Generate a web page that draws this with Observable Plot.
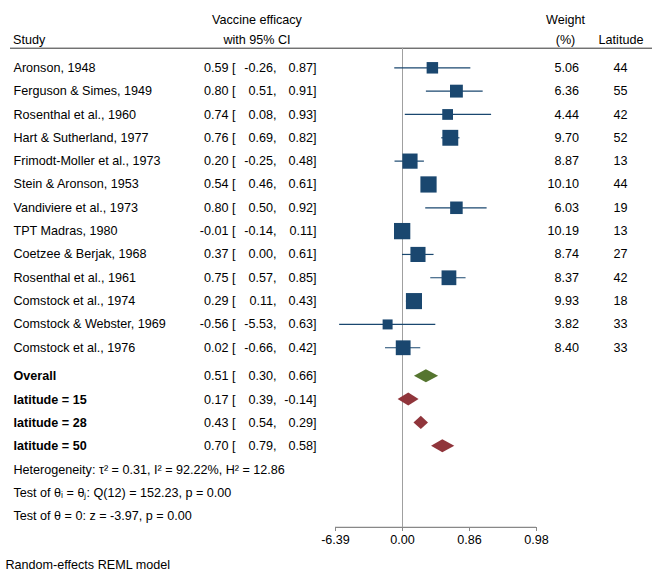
<!DOCTYPE html>
<html><head><meta charset="utf-8">
<script src="https://cdn.jsdelivr.net/npm/d3@7"></script>
<script src="https://cdn.jsdelivr.net/npm/@observablehq/plot@0.6"></script>
<style>body{margin:0;background:#fff} svg{display:block}</style>
</head><body><div id="chart"></div>
<script>
// ---- data ----
const studies = ["Aronson, 1948", "Ferguson & Simes, 1949", "Rosenthal et al., 1960", "Hart & Sutherland, 1977",
  "Frimodt-Moller et al., 1973", "Stein & Aronson, 1953", "Vandiviere et al., 1973", "TPT Madras, 1980",
  "Coetzee & Berjak, 1968", "Rosenthal et al., 1961", "Comstock et al., 1974", "Comstock & Webster, 1969",
  "Comstock et al., 1976"];
const efficacy = [0.59, 0.80, 0.74, 0.76, 0.20, 0.54, 0.80, -0.01, 0.37, 0.75, 0.29, -0.56, 0.02];
const ciLow    = [-0.26, 0.51, 0.08, 0.69, -0.25, 0.46, 0.50, -0.14, 0.00, 0.57, 0.11, -5.53, -0.66];
const ciHigh   = [0.87, 0.91, 0.93, 0.82, 0.48, 0.61, 0.92, 0.11, 0.61, 0.85, 0.43, 0.63, 0.42];
const weights  = [5.06, 6.36, 4.44, 9.70, 8.87, 10.10, 6.03, 10.19, 8.74, 8.37, 9.93, 3.82, 8.40];
const latitude = [44, 55, 42, 52, 13, 44, 19, 13, 27, 42, 18, 33, 33];

const pooledLabels = ["Overall", "latitude = 15", "latitude = 28", "latitude = 50"];
const pooledEst  = [0.51, 0.17, 0.43, 0.70];
const pooledLow  = [0.30, 0.39, 0.54, 0.79];
const pooledHigh = [0.66, -0.14, 0.29, 0.58];

const statLines = [
  "Heterogeneity: \u03c4\u00b2 = 0.31, I\u00b2 = 92.22%, H\u00b2 = 12.86",
  "Test of \u03b8\u1d62 = \u03b8\u2c7c: Q(12) = 152.23, p = 0.00",
  "Test of \u03b8 = 0: z = -3.97, p = 0.00"
];
const tickLabels = ["-6.39", "0.00", "0.86", "0.98"];
const tickEfficacy = [1 - Math.exp(2), 0, 1 - Math.exp(-2), 1 - Math.exp(-4)];
const footer = "Random-effects REML model";

// ---- layout ----
const vt = v => -Math.log(1 - v);          // efficacy -> log scale used by axis
const n = studies.length;
const gap = 0.22;
const headerLineRow = -0.84, axisRow = 19.70;
const green = "#55752f", maroon = "#90353b", navy = "#1a476f";
const font = "'Liberation Sans', Arial, Helvetica, sans-serif";
const fs = 12.6;

const rows = studies.map((s, i) => ({
  label: s, row: i, est: efficacy[i], lo: ciLow[i], hi: ciHigh[i], w: weights[i], lat: latitude[i], bold: false
}));
const pooled = pooledLabels.map((s, j) => ({
  label: s, row: n + gap + j, est: pooledEst[j], lo: pooledLow[j], hi: pooledHigh[j], bold: true, overall: j === 0
}));
const stats = statLines.map((s, k) => ({label: s, row: n + gap + pooledLabels.length + k}));

const h = 0.28;
const diamondPts = pooled.flatMap(p => [
  {id: p.label, overall: p.overall, y: p.row - h, x1: vt(p.est), x2: vt(p.est)},
  {id: p.label, overall: p.overall, y: p.row, x1: vt(p.lo), x2: vt(p.hi)},
  {id: p.label, overall: p.overall, y: p.row + h, x1: vt(p.est), x2: vt(p.est)}
]);

const cols = {study: 13, est: 235, lo: 276, hi: 316, weight: 578.5, lat: 620};
const all = [...rows, ...pooled];
const txt = (data, opts) => Plot.text(data, {frameAnchor: "left", fontSize: fs, fill: "black", ...opts});
const maxW = d3.max(weights);
const tickT = tickEfficacy.map(vt);

const chart = Plot.plot({
  width: 662, height: 577,
  marginLeft: 0, marginRight: 0, marginTop: 0, marginBottom: 50,
  style: {fontFamily: font, fontSize: fs + "px", background: "white", color: "black"},
  x: {domain: [tickT[0], tickT[3]], range: [335, 536], label: null},
  y: {domain: [0, 20], range: [67.3, 67.3 + 20 * 23.33], axis: null},
  r: {type: "sqrt", domain: [0, maxW], range: [0, 2.88 * Math.sqrt(maxW)]},
  marks: [
    // header
    txt([{t: "Vaccine efficacy", y: -2.03}, {t: "with 95% CI", y: -1.2}], {text: "t", y: "y", dx: 256.5, textAnchor: "middle"}),
    txt([{t: "Study", y: -1.2}], {text: "t", y: "y", dx: 12.5, textAnchor: "start"}),
    txt([{t: "Weight", y: -2.03}, {t: "(%)", y: -1.2}], {text: "t", y: "y", dx: 565, textAnchor: "middle"}),
    txt([{t: "Latitude", y: -1.2}], {text: "t", y: "y", dx: 620.5, textAnchor: "middle"}),
    Plot.ruleY([headerLineRow], {insetLeft: 10, insetRight: 10, stroke: "#333", strokeWidth: 1}),
    // zero line and axis line
    Plot.ruleX([0], {y1: headerLineRow, y2: axisRow, stroke: "#a0a0a0", strokeWidth: 1}),
    Plot.ruleY([axisRow], {x1: tickT[0], x2: tickT[3], stroke: "#888", strokeWidth: 1.3}),
    // labels
    txt(rows, {text: "label", y: "row", dx: cols.study, textAnchor: "start"}),
    txt(pooled, {text: "label", y: "row", dx: cols.study, textAnchor: "start", fontWeight: "bold"}),
    txt(all, {text: d => d.est.toFixed(2) + " [", y: "row", dx: cols.est, textAnchor: "end"}),
    txt(all, {text: d => d.lo.toFixed(2) + ",", y: "row", dx: cols.lo, textAnchor: "end"}),
    txt(all, {text: d => d.hi.toFixed(2) + "]", y: "row", dx: cols.hi, textAnchor: "end"}),
    txt(rows, {text: d => d.w.toFixed(2), y: "row", dx: cols.weight, textAnchor: "end"}),
    txt(rows, {text: d => String(d.lat), y: "row", dx: cols.lat, textAnchor: "middle"}),
    txt(stats, {text: "label", y: "row", dx: cols.study, textAnchor: "start"}),
    txt([{t: footer, y: 21.33}], {text: "t", y: "y", dx: 5, textAnchor: "start"}),
    // CIs and squares
    Plot.ruleY(rows, {y: "row", x1: d => vt(d.lo), x2: d => vt(d.hi), stroke: navy, strokeWidth: 1.2}),
    Plot.dot(rows, {x: d => vt(d.est), y: "row", r: "w", symbol: "square", fill: navy, stroke: null}),
    // diamonds
    Plot.areaX(diamondPts.filter(d => d.overall), {y: "y", x1: "x1", x2: "x2", z: "id", fill: green, curve: "linear"}),
    Plot.areaX(diamondPts.filter(d => !d.overall), {y: "y", x1: "x1", x2: "x2", z: "id", fill: maroon, curve: "linear"}),
    // axis
    Plot.axisX(tickT, {tickSize: 4, stroke: "#888", fill: "black", fontSize: fs,
      tickFormat: t => tickLabels[tickT.indexOf(t)], tickPadding: 4, label: null})
  ]
});
document.getElementById("chart").append(chart);
</script></body></html>
